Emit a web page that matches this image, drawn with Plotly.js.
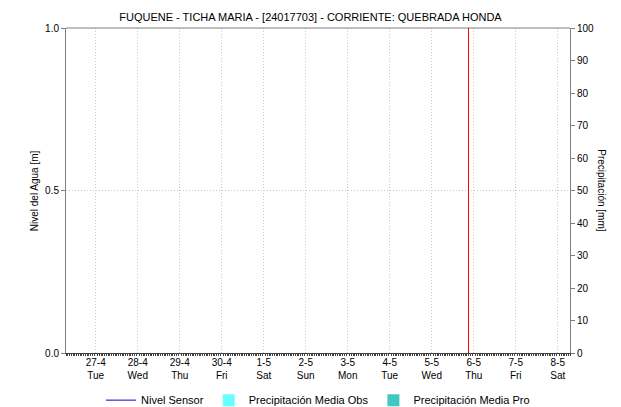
<!DOCTYPE html>
<html><head><meta charset="utf-8">
<script src="https://cdn.plot.ly/plotly-3.0.1.min.js"></script>
<style>html,body{margin:0;padding:0;background:#fff}#chart{width:621px;height:407px}</style>
</head><body><div id="chart"></div>
<script>
// Data (no observations recorded in the period shown)
const fechas = ['2021-04-27'];
const nivelSensor = [null];
const precipObs = [null];
const precipPro = [null];
const xRange = ['2021-04-26 07:00', '2021-05-08 07:00'];
const marcaActual = '2021-05-05 21:00';
const titulo = 'FUQUENE - TICHA MARIA - [24017703] - CORRIENTE: QUEBRADA HONDA';

const fontFam = '"Liberation Sans", Arial, sans-serif';
const traces = [
  {type:'bar', name:'Precipitación Media Obs', x:fechas, y:precipObs, yaxis:'y2', marker:{color:'#66ffff'}, showlegend:true, legendrank:2},
  {type:'bar', name:'Precipitación Media Pro', x:fechas, y:precipPro, yaxis:'y2', marker:{color:'#40c8c0'}, showlegend:true, legendrank:3},
  {type:'scatter', mode:'lines', name:'Nivel Sensor', x:fechas, y:nivelSensor, line:{color:'#0000cc', width:1}, showlegend:true, legendrank:1}
];
const layout = {
  width:621, height:407,
  margin:{l:66, r:51, t:28, b:54, autoexpand:false},
  paper_bgcolor:'#fff', plot_bgcolor:'#fff',
  font:{family:fontFam, size:10, color:'#000'},
  title:{text:titulo, font:{family:fontFam, size:11, color:'#000'}, x:0.5, xanchor:'center', y:0.958, yanchor:'middle'},
  showlegend:true,
  legend:{orientation:'h', x:0.5, xanchor:'center', y:-0.145, yanchor:'middle', traceorder:'normal', font:{family:fontFam, size:11, color:'#000'}, itemwidth:30},
  xaxis:{type:'date', range:xRange, tick0:'2021-04-27', dtick:86400000, tickformat:'%-d-%-m<br>%a',
    showgrid:true, gridcolor:'#c8c8c8', griddash:'1px,2px', gridwidth:1,
    showline:true, linecolor:'#404040', linewidth:1, ticks:'', zeroline:false,
    minor:{dtick:3600000, ticks:'outside', ticklen:2, tickcolor:'#404040', showgrid:false},
    tickfont:{size:10, family:fontFam}},
  yaxis:{range:[0,1], tickvals:[0,0.5,1], ticktext:['0.0','0.5','1.0'],
    showgrid:true, gridcolor:'#c8c8c8', griddash:'1px,2px', zeroline:false,
    showline:true, linecolor:'#808080', ticks:'outside', ticklen:4, tickcolor:'#808080',
    tickfont:{size:10, family:fontFam}},
  yaxis2:{overlaying:'y', side:'right', range:[0,100], dtick:10, showgrid:false, zeroline:false,
    showline:true, linecolor:'#808080', ticks:'outside', ticklen:4, tickcolor:'#808080',
    tickfont:{size:10, family:fontFam}},
  shapes:[
    {type:'line', xref:'paper', yref:'paper', x0:0, x1:1, y0:1, y1:1, line:{color:'#808080', width:1}},
    {type:'line', xref:'x', yref:'paper', x0:marcaActual, x1:marcaActual, y0:0, y1:1, line:{color:'#ff0000', width:1}}
  ],
  annotations:[
    {text:'Nivel del Agua [m]', xref:'paper', yref:'paper', x:-0.062, y:0.5, xanchor:'center', yanchor:'middle', textangle:-90, showarrow:false, font:{family:fontFam, size:10, color:'#000'}},
    {text:'Precipitación [mm]', xref:'paper', yref:'paper', x:1.062, y:0.5, xanchor:'center', yanchor:'middle', textangle:90, showarrow:false, font:{family:fontFam, size:10, color:'#000'}}
  ]
};
Plotly.newPlot('chart', traces, layout, {displayModeBar:false, staticPlot:true});
</script></body></html>
